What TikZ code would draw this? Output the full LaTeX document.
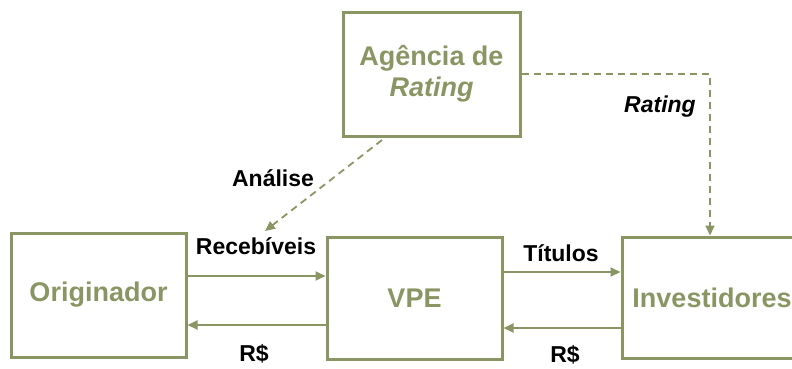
\documentclass[tikz,border=0pt]{standalone}
\usepackage{fontspec}
\setmainfont{Liberation Sans}
\usetikzlibrary{arrows.meta}
\definecolor{olive}{RGB}{137,150,100}
\begin{document}
\begin{tikzpicture}[x=1pt,y=-1pt,
  box/.style={draw=olive,line width=3pt,inner sep=0pt,text=olive,font=\fontsize{27}{31}\selectfont\bfseries,align=center},
  flow/.style={draw=olive,line width=1.8pt,-{Triangle[length=10pt,width=9pt]}},
  dflow/.style={draw=olive,line width=1.8pt,dash pattern=on 7pt off 5pt,-{Triangle[length=10pt,width=9pt]}},
  lbl/.style={font=\fontsize{23}{27}\selectfont\bfseries,text=black,inner sep=0pt}]
\useasboundingbox (0,0) rectangle (792,368);
\node[box,minimum width=177pt,minimum height=124pt] (ag) at (431.5,74) {Agência de\\\textit{Rating}};
\node[box,minimum width=175pt,minimum height=124pt] (orig) at (98.5,295) {Originador};
\node[box,minimum width=175pt,minimum height=122pt] (vpe) at (414.5,298.5) {VPE};
\node[box,minimum width=180pt,minimum height=121pt,text width=170pt] (inv) at (712,297.5) {Investidores};
\coordinate (astart) at (382,140);
\coordinate (aend) at (265,231);
\coordinate (rcorner) at (710,74);
\draw[flow] (orig.east |- 0,276) -- (vpe.west |- 0,276);
\draw[flow] (vpe.west |- 0,325) -- (orig.east |- 0,325);
\draw[flow] (vpe.east |- 0,272) -- (inv.west |- 0,272);
\draw[flow] (inv.west |- 0,328) -- (vpe.east |- 0,328);
\draw[dflow] (astart) -- (aend);
\draw[dflow] (ag.east) -- (rcorner) -- (inv.north -| rcorner);
\node[lbl] (la) at (273,178) {Análise};
\node[lbl] (lr) at (256,246) {Recebíveis};
\node[lbl] (lrs1) at (254,354) {R\$};
\node[lbl] (lt) at (561,253) {Títulos};
\node[lbl] (lrs2) at (565,355) {R\$};
\node[lbl] (lrat) at (660,107) {\textit{Rating}};
\end{tikzpicture}
\end{document}
